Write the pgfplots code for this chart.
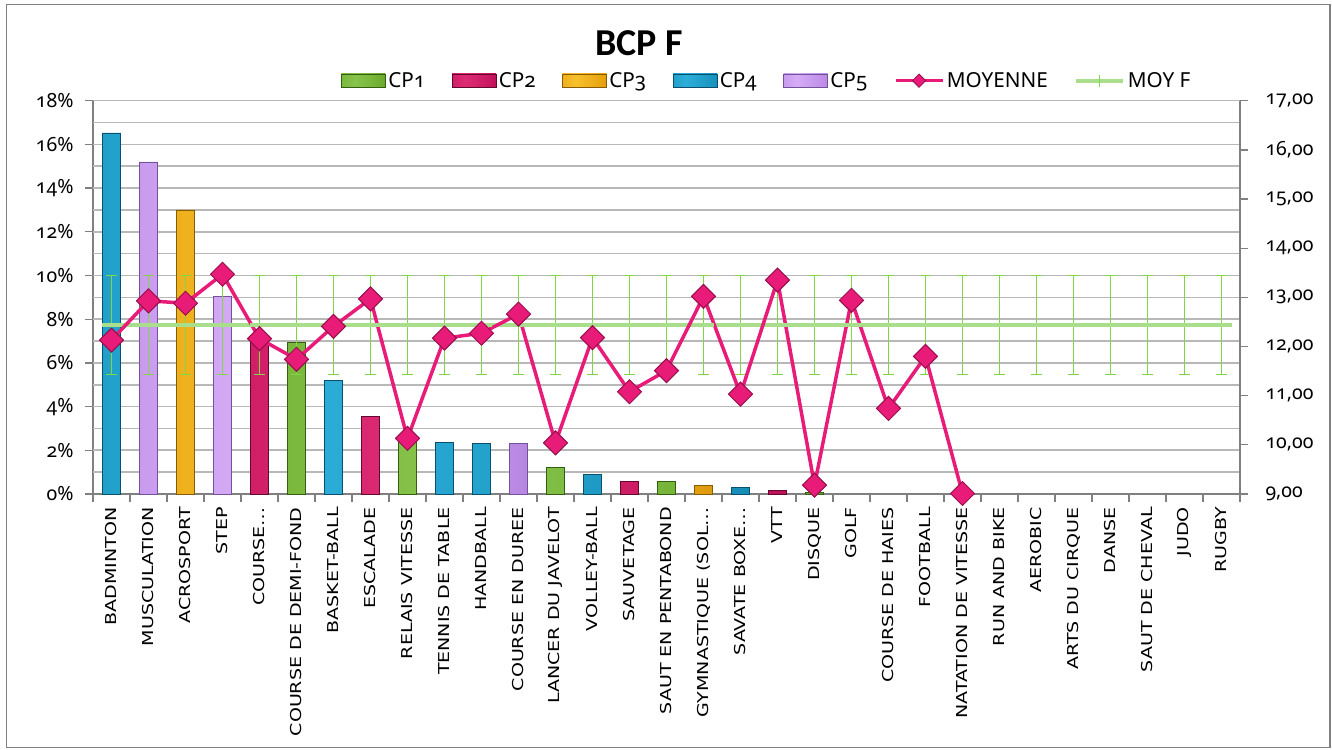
\documentclass[border=0pt]{standalone}
\usepackage{pgfplots}
\pgfplotsset{compat=1.18}
\usepackage{fontspec}
\setmainfont{Carlito}
\newfontfamily\tickfont[Numbers=OldStyle]{Noto Sans}
\newfontfamily\labelfont{DejaVu Sans}
\definecolor{cp1}{RGB}{108,172,48}\definecolor{cp1d}{RGB}{50,96,16}\definecolor{cp1l}{RGB}{136,196,76}
\definecolor{cp2}{RGB}{196,18,92}\definecolor{cp2d}{RGB}{100,8,46}\definecolor{cp2l}{RGB}{222,44,116}
\definecolor{cp3}{RGB}{230,162,14}\definecolor{cp3d}{RGB}{136,92,0}\definecolor{cp3l}{RGB}{248,192,46}
\definecolor{cp4}{RGB}{24,148,190}\definecolor{cp4d}{RGB}{10,80,110}\definecolor{cp4l}{RGB}{44,174,216}
\definecolor{cp5}{RGB}{190,140,232}\definecolor{cp5d}{RGB}{114,82,152}\definecolor{cp5l}{RGB}{214,172,246}
\definecolor{moy}{RGB}{232,28,120}\definecolor{moyd}{RGB}{150,15,75}
\definecolor{moyf}{RGB}{168,222,140}\definecolor{errg}{RGB}{128,214,70}
\definecolor{gridgray}{RGB}{184,184,184}\definecolor{axisgray}{RGB}{128,128,128}
\pgfdeclarehorizontalshading{sh1}{100bp}{color(0bp)=(cp1d); color(12bp)=(cp1); color(40bp)=(cp1l); color(72bp)=(cp1); color(100bp)=(cp1d)}
\pgfdeclarehorizontalshading{sh2}{100bp}{color(0bp)=(cp2d); color(12bp)=(cp2); color(40bp)=(cp2l); color(72bp)=(cp2); color(100bp)=(cp2d)}
\pgfdeclarehorizontalshading{sh3}{100bp}{color(0bp)=(cp3d); color(12bp)=(cp3); color(40bp)=(cp3l); color(72bp)=(cp3); color(100bp)=(cp3d)}
\pgfdeclarehorizontalshading{sh4}{100bp}{color(0bp)=(cp4d); color(12bp)=(cp4); color(40bp)=(cp4l); color(72bp)=(cp4); color(100bp)=(cp4d)}
\pgfdeclarehorizontalshading{sh5}{100bp}{color(0bp)=(cp5d); color(12bp)=(cp5); color(40bp)=(cp5l); color(72bp)=(cp5); color(100bp)=(cp5d)}
\newcommand\tf{\tickfont\fontsize{19.5}{24}\selectfont}
\begin{document}
\begin{tikzpicture}
\path (0pt,0pt) rectangle (1332pt,749pt);
\pgfplotsset{
  common/.style={
    at={(93pt,255pt)}, anchor=south west, scale only axis,
    width=1147pt, height=393.3pt, xmin=-0.5, xmax=30.5,
    tick align=outside, major tick length=8pt,
    tick style={axisgray, line width=1.3pt},
    axis line style={axisgray, line width=1.3pt},
    /pgf/number format/assume math mode=true,
    clip=false,
  },
  cpbar/.style={ybar, bar width=18.5pt, bar shift=0pt, draw=cp#1d, line width=0.6pt,
    shading=sh#1},
  barleg/.style={legend image code/.code={\draw[draw=cp#1d, line width=0.6pt, shading=sh#1] (0pt,-6.7pt) rectangle (44pt,6.7pt);}},
}
\begin{axis}[common,
  ymin=0, ymax=18,
  axis y line*=left, axis x line*=bottom,
  xtick={0,1,...,30},
  xticklabels={BADMINTON,MUSCULATION,ACROSPORT,STEP,COURSE…,COURSE DE DEMI-FOND,BASKET-BALL,ESCALADE,RELAIS VITESSE,TENNIS DE TABLE,HANDBALL,COURSE EN DUREE,LANCER DU JAVELOT,VOLLEY-BALL,SAUVETAGE,SAUT EN PENTABOND,GYMNASTIQUE (SOL…,SAVATE BOXE…,VTT,DISQUE,GOLF,COURSE DE HAIES,FOOTBALL,NATATION DE VITESSE,RUN AND BIKE,AEROBIC,ARTS DU CIRQUE,DANSE,SAUT DE CHEVAL,JUDO,RUGBY},
  major x tick style={draw=none},
  xticklabel style={rotate=90, xscale=1.27, anchor=east, inner sep=4pt,
    font=\labelfont\fontsize{15}{18}\selectfont},
  ytick={0,2,...,18},
  yticklabel={\tf\pgfmathprintnumber[assume math mode=true]{\tick}\%},
  yticklabel style={xshift=-8pt},
]
% horizontal grid lines (every 1 %)
\pgfplotsinvokeforeach{1,2,...,18}{\addplot[gridgray, line width=1.6pt, forget plot] coordinates {(-0.5,#1) (30.5,#1)};}
% left tick marks
\addplot[axisgray, line width=1.3pt, only marks, mark=-, mark size=4pt, mark options={xshift=-4pt}, forget plot]
  coordinates {(-0.5,0) (-0.5,2) (-0.5,4) (-0.5,6) (-0.5,8) (-0.5,10) (-0.5,12) (-0.5,14) (-0.5,16) (-0.5,18)};
% category boundary ticks
\addplot[axisgray, line width=1.3pt, only marks, mark=|, mark size=4pt, mark options={yshift=-4pt}, forget plot]
  coordinates {(-0.5,0) (0.5,0) (1.5,0) (2.5,0) (3.5,0) (4.5,0) (5.5,0) (6.5,0) (7.5,0) (8.5,0) (9.5,0)
  (10.5,0) (11.5,0) (12.5,0) (13.5,0) (14.5,0) (15.5,0) (16.5,0) (17.5,0) (18.5,0) (19.5,0)
  (20.5,0) (21.5,0) (22.5,0) (23.5,0) (24.5,0) (25.5,0) (26.5,0) (27.5,0) (28.5,0) (29.5,0) (30.5,0)};
\addplot[cpbar=1] coordinates {(5,6.92) (8,2.39) (12,1.22) (15,0.58) (19,0.06)};
\addplot[cpbar=2] coordinates {(4,7.00) (7,3.54) (14,0.58) (18,0.18)};
\addplot[cpbar=3] coordinates {(2,13.00) (16,0.38)};
\addplot[cpbar=4] coordinates {(0,16.53) (6,5.19) (9,2.37) (10,2.33) (13,0.90) (17,0.32)};
\addplot[cpbar=5] coordinates {(1,15.20) (3,9.06) (11,2.33)};
\end{axis}
\begin{axis}[common,
  ymin=9, ymax=17,
  axis y line*=right, axis x line=none,
  xtick=\empty,
  ytick={9,10,...,17},
  yticklabel={\tf\pgfmathprintnumber[assume math mode=true, fixed, fixed zerofill, precision=2, use comma]{\tick}},
  yticklabel style={xshift=14pt},
  legend columns=7,
  legend style={at={(0.2136,1.0509)}, anchor=west, draw=none, fill=none,
    font=\tickfont\fontsize{20.7}{24}\selectfont,
    nodes={inner sep=2.5pt},
    /tikz/every even column/.append style={column sep=24pt}},
]
\addplot[axisgray, line width=1.3pt, only marks, mark=-, mark size=4pt, mark options={xshift=4pt}, forget plot]
  coordinates {(30.5,9) (30.5,10) (30.5,11) (30.5,12) (30.5,13) (30.5,14) (30.5,15) (30.5,16) (30.5,17)};
\addlegendimage{barleg=1}
\addlegendimage{barleg=2}
\addlegendimage{barleg=3}
\addlegendimage{barleg=4}
\addlegendimage{barleg=5}
\addplot[moyf, line width=4pt, forget plot, mark=-, mark size=10pt,
  error bars/.cd, y dir=both, y explicit,
  error bar style={errg, line width=1pt},
  error mark options={errg, rotate=90, line width=1pt, mark size=5.3pt}]
  coordinates {
  (0,12.44)+-(0,1) (1,12.44)+-(0,1) (2,12.44)+-(0,1) (3,12.44)+-(0,1) (4,12.44)+-(0,1)
  (5,12.44)+-(0,1) (6,12.44)+-(0,1) (7,12.44)+-(0,1) (8,12.44)+-(0,1) (9,12.44)+-(0,1)
  (10,12.44)+-(0,1) (11,12.44)+-(0,1) (12,12.44)+-(0,1) (13,12.44)+-(0,1) (14,12.44)+-(0,1)
  (15,12.44)+-(0,1) (16,12.44)+-(0,1) (17,12.44)+-(0,1) (18,12.44)+-(0,1) (19,12.44)+-(0,1)
  (20,12.44)+-(0,1) (21,12.44)+-(0,1) (22,12.44)+-(0,1) (23,12.44)+-(0,1) (24,12.44)+-(0,1)
  (25,12.44)+-(0,1) (26,12.44)+-(0,1) (27,12.44)+-(0,1) (28,12.44)+-(0,1) (29,12.44)+-(0,1)
  (30,12.44)+-(0,1)};
\addplot[moy, line width=3.5pt, mark=square*, mark size=8.5pt,
  mark options={rotate=45, fill=moy, draw=moyd, line width=1pt},
  legend image code/.code={\draw[moy, line width=3.5pt] (0pt,0pt) -- (47pt,0pt);
    \draw[fill=moy, draw=moyd, line width=0.8pt, rotate around={45:(23.5pt,0pt)}] (18.8pt,-4.7pt) rectangle (28.2pt,4.7pt);}]
  coordinates {(0,12.13) (1,12.93) (2,12.88) (3,13.47) (4,12.16) (5,11.74) (6,12.41) (7,12.97)
  (8,10.13) (9,12.17) (10,12.27) (11,12.66) (12,10.04) (13,12.18) (14,11.08) (15,11.51)
  (16,13.02) (17,11.03) (18,13.35) (19,9.18) (20,12.94) (21,10.74) (22,11.80) (23,9.01)};
\addlegendimage{legend image code/.code={\draw[moyf, line width=4pt] (0pt,0pt) -- (47pt,0pt);
    \draw[errg, line width=1pt] (23.5pt,-6pt) -- (23.5pt,6pt);}}
\legend{CP1,CP2,CP3,CP4,CP5,MOYENNE,MOY F}
\end{axis}
\node[anchor=base, font=\bfseries\fontsize{38}{42}\selectfont] at (639pt,693pt) {BCP F};
\draw[axisgray, line width=1.5pt] (6.5pt,1.5pt) rectangle (1330pt,744.5pt);
\end{tikzpicture}
\end{document}
